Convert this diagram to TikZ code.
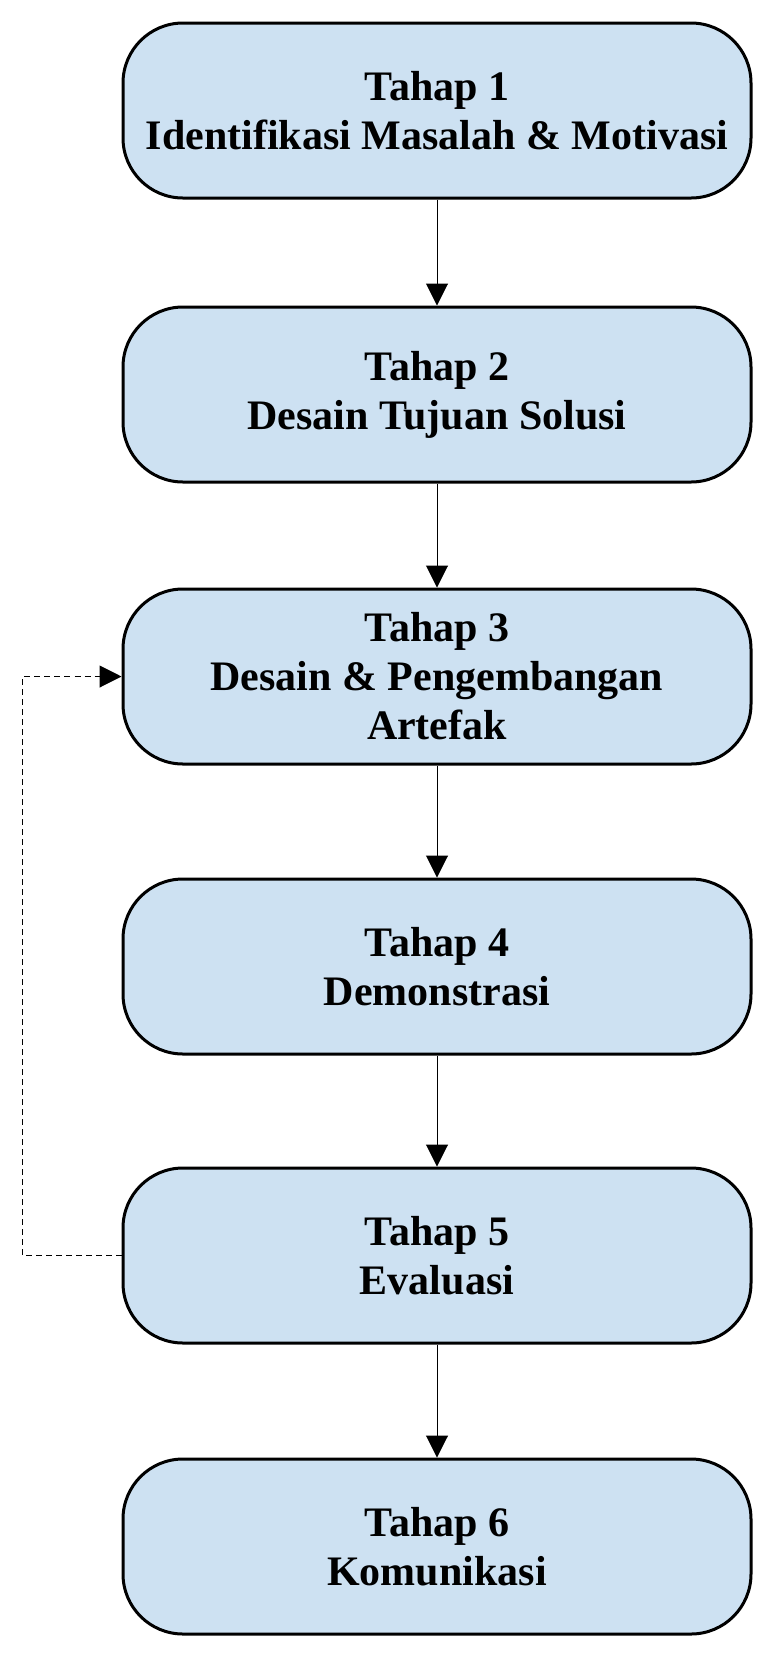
\documentclass[tikz,border=0pt]{standalone}
\usepackage{fontspec}
\setmainfont{Liberation Serif}
\usetikzlibrary{positioning}
\usetikzlibrary{arrows.meta}
\definecolor{tahapblue}{RGB}{205,225,242}

\begin{document}
\begin{tikzpicture}[tahap/.style={draw, line width=1.5pt, fill=tahapblue,
                rounded corners=30pt, minimum width=314pt, minimum height=87.5pt,
                align=center, font=\fontsize{21}{24.5}\selectfont\bfseries},
                alur/.style={-{Triangle[length=11pt,width=11pt]}, line width=0.5pt},
                balik/.style={alur, dash pattern=on 3pt off 2pt}]
             \useasboundingbox (0,0) rectangle (390pt,-828pt);
             \node[tahap] (t1) at (218.5pt,-55.25pt) {Tahap 1\\Identifikasi Masalah \& Motivasi};
             \node[tahap, below=53pt of t1] (t2) {Tahap 2\\Desain Tujuan Solusi};
             \node[tahap, below=52pt of t2] (t3) {Tahap 3\\Desain \& Pengembangan\\Artefak};
             \node[tahap, below=56pt of t3] (t4) {Tahap 4\\Demonstrasi};
             \node[tahap, below=55.5pt of t4] (t5) {Tahap 5\\Evaluasi};
             \node[tahap, below=56.5pt of t5] (t6) {Tahap 6\\Komunikasi};
             \draw[alur] (t1) -- (t2);
             \draw[alur] (t2) -- (t3);
             \draw[alur] (t3) -- (t4);
             \draw[alur] (t4) -- (t5);
             \draw[alur] (t5) -- (t6);
             % umpan balik dari evaluasi
             \coordinate[left=49.5pt of t5.west] (b5);
             \draw[balik] (t5.west) -- (b5) |- (t3.west);
\end{tikzpicture}
\end{document}
